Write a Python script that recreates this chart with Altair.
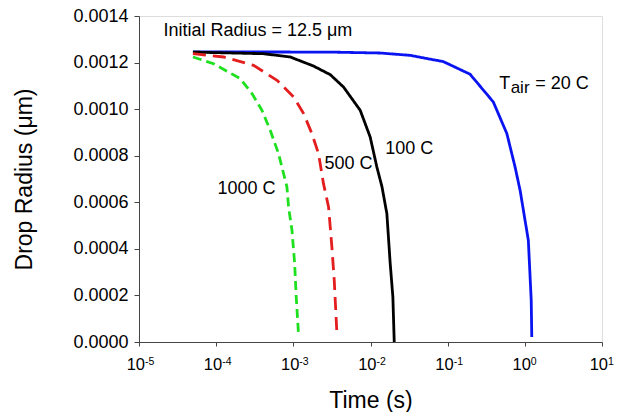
import altair as alt
import pandas as pd

# ---- data ----
t_20 = [5e-5, 3.0e-3, 0.0134, 0.0327, 0.088, 0.195, 0.39, 0.585, 0.748, 0.87, 1.11, 1.21, 1.23]
r_20 = [0.001246, 0.001245, 0.001241, 0.001231, 0.001204, 0.00115, 0.001031, 0.000895, 0.000751, 0.00065, 0.000437, 0.000179, 0.0000215]

t_100 = [5e-5, 4.11e-4, 9.12e-4, 1.83e-3, 3.01e-3, 4.47e-3, 7.36e-3, 9.91e-3, 1.21e-2, 1.41e-2, 1.63e-2, 1.80e-2, 1.95e-2, 2.03e-2]
r_100 = [0.001245, 0.001238, 0.001224, 0.001185, 0.001148, 0.001095, 0.000995, 0.00088, 0.000751, 0.000666, 0.000551, 0.000337, 0.000193, 0.0]

t_500 = [5e-5, 1.25e-4, 3.05e-4, 6.14e-4, 1.01e-3, 1.36e-3, 1.74e-3, 2.12e-3, 2.46e-3, 2.86e-3, 3.16e-3, 3.39e-3, 3.67e-3]
r_500 = [0.001238, 0.001224, 0.001188, 0.001124, 0.001052, 0.000981, 0.000895, 0.000809, 0.00068, 0.00058, 0.000408, 0.000265, 0.000036]

t_1000 = [5e-5, 9.25e-5, 2.05e-4, 2.91e-4, 3.92e-4, 5.02e-4, 6.43e-4, 8.26e-4, 8.67e-4, 9.60e-4, 1.04e-3, 1.09e-3, 1.17e-3]
r_1000 = [0.001224, 0.001195, 0.001131, 0.001067, 0.000995, 0.000909, 0.000809, 0.000666, 0.00058, 0.00048, 0.000337, 0.000193, 0.0000288]

series_names = ["20 C", "100 C", "500 C", "1000 C"]
series_colors = ["#0a14f0", "#000000", "#e41e1e", "#1fe01f"]
series_dash = [[1, 0], [1, 0], [13, 7], [9, 5]]

x_tick_values = [1e-5, 1e-4, 1e-3, 1e-2, 1e-1, 1e0, 1e1]
x_tick_exps = ["-5", "-4", "-3", "-2", "-1", "0", "1"]
y_tick_values = [0, 0.0002, 0.0004, 0.0006, 0.0008, 0.0010, 0.0012, 0.0014]

ann_labels = ["Initial Radius = 12.5 \u03bcm", "100 C", "500 C", "1000 C", "T", "= 20 C"]
ann_t = [2.07e-5, 0.0155, 2.54e-3, 1.04e-4, 0.465, 1.36]
ann_r = [0.001313, 0.000806, 0.000745, 0.000637, 0.001087, 0.001087]
sub_labels = ["air"]
sub_t = [0.655]
sub_r = [0.00107]

# ---- tables ----
rows = []
for name, ts, rs in zip(series_names, [t_20, t_100, t_500, t_1000], [r_20, r_100, r_500, r_1000]):
    for i, (t, r) in enumerate(zip(ts, rs)):
        rows.append({"series": name, "t": t, "r": r, "i": i})
df = pd.DataFrame(rows)
ticks_df = pd.DataFrame({"v": x_tick_values, "e": x_tick_exps, "b": ["10"] * len(x_tick_values)})
ann_df = pd.DataFrame({"label": ann_labels, "t": ann_t, "r": ann_r})
sub_df = pd.DataFrame({"label": sub_labels, "t": sub_t, "r": sub_r})

W, H = 463, 326
FONT = "Liberation Sans"
xscale = alt.Scale(type="log", domain=[1e-5, 10])
yscale = alt.Scale(domain=[0, 0.0014])

lines = alt.Chart(df).mark_line(strokeWidth=2.8).encode(
    x=alt.X("t:Q", scale=xscale,
            axis=alt.Axis(values=x_tick_values, labels=False, grid=False, tickSize=4,
                          tickColor="#444", domainColor="#444", title="Time (s)",
                          titleFontSize=23, titleFontWeight="normal", titleColor="black",
                          titleX=W / 2, titleY=65, titleBaseline="alphabetic", titleFont=FONT)),
    y=alt.Y("r:Q", scale=yscale,
            axis=alt.Axis(values=y_tick_values, format=".4f", grid=False, tickSize=5,
                          tickColor="#444", domainColor="#444", labelFontSize=18,
                          labelColor="black", labelPadding=6, labelFont=FONT,
                          title="Drop Radius (\u03bcm)", titleFontSize=23,
                          titleFontWeight="normal", titleColor="black", titleFont=FONT,
                          titleAngle=-90, titleX=-115, titleY=H / 2,
                          titleAlign="center", titleBaseline="middle")),
    color=alt.Color("series:N", scale=alt.Scale(domain=series_names, range=series_colors), legend=None),
    strokeDash=alt.StrokeDash("series:N", scale=alt.Scale(domain=series_names, range=series_dash), legend=None),
    order=alt.Order("i:Q"),
)

tick_base = alt.Chart(ticks_df).mark_text(align="right", baseline="alphabetic", dx=6, dy=28,
                                          fontSize=16.5, font=FONT, color="black").encode(
    x=alt.X("v:Q", scale=xscale), y=alt.value(H), text="b:N")
tick_exp = alt.Chart(ticks_df).mark_text(align="left", baseline="alphabetic", dx=6, dy=23,
                                         fontSize=10.5, font=FONT, color="black").encode(
    x=alt.X("v:Q", scale=xscale), y=alt.value(H), text="e:N")

ann = alt.Chart(ann_df).mark_text(align="left", baseline="alphabetic", fontSize=18,
                                  font=FONT, color="black").encode(
    x=alt.X("t:Q", scale=xscale), y=alt.Y("r:Q", scale=yscale), text="label:N")
sub = alt.Chart(sub_df).mark_text(align="left", baseline="alphabetic", fontSize=17,
                                  font=FONT, color="black").encode(
    x=alt.X("t:Q", scale=xscale), y=alt.Y("r:Q", scale=yscale), text="label:N")

chart = alt.layer(lines, tick_base, tick_exp, ann, sub).properties(
    width=W, height=H,
    padding={"left": 139, "top": 16, "right": 19, "bottom": 70},
    autosize=alt.AutoSizeParams(type="none"),
    background="white",
).configure_view(stroke="#444", strokeWidth=1).configure(font=FONT)

chart.save("out.html", embed_options={"renderer": "svg", "actions": False})
